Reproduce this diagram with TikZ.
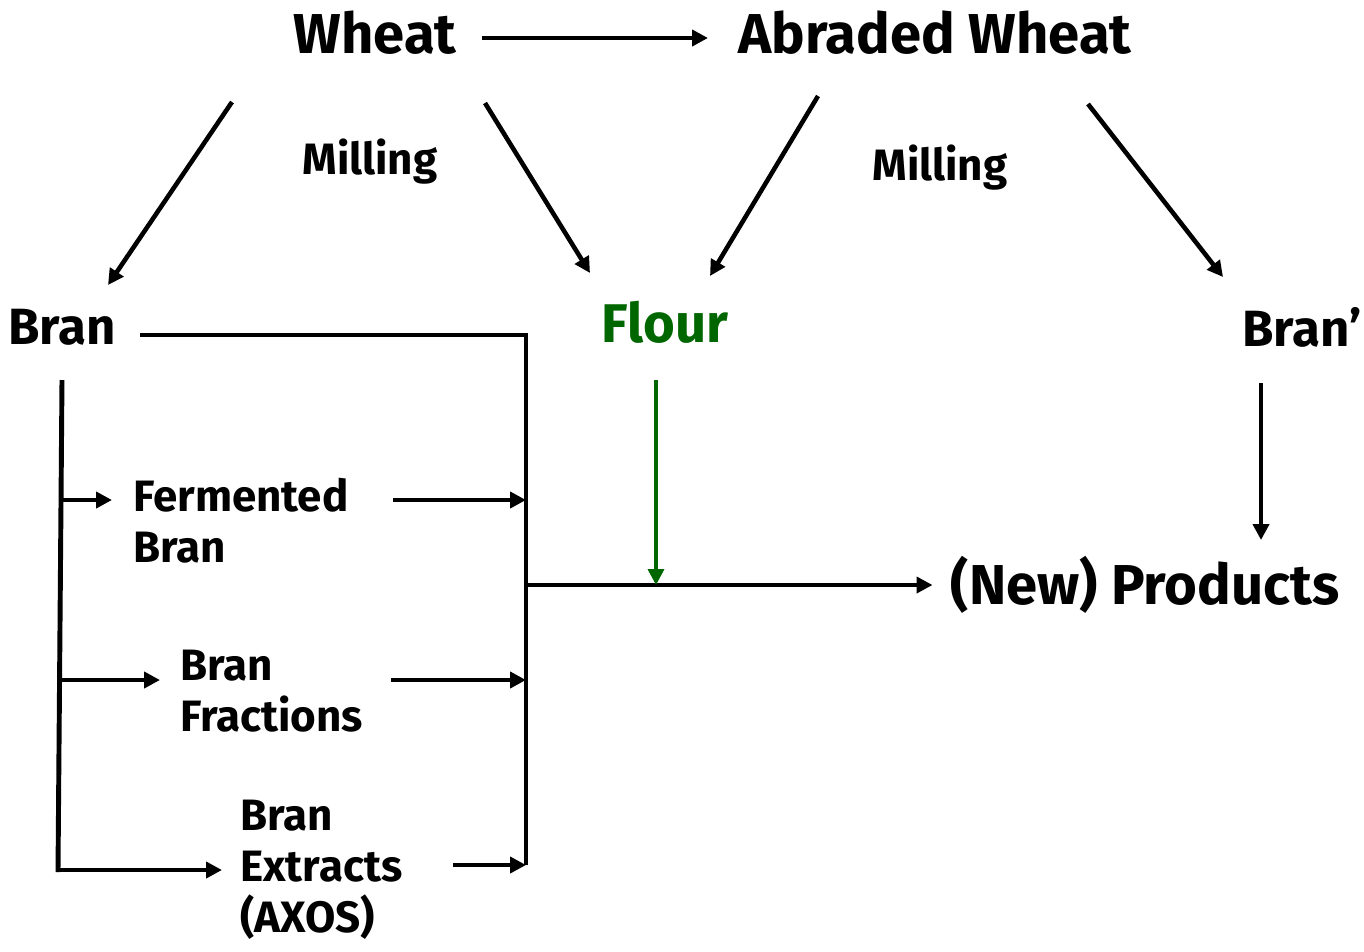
\documentclass[tikz,border=0pt]{standalone}
\usepackage{fontspec}
\setmainfont{Fira Sans}
\usetikzlibrary{calc,arrows.meta}
\definecolor{flourgreen}{RGB}{0,102,0}
\tikzset{
  lbl/.style={font=\bfseries\fontsize{25}{29}\selectfont, inner sep=0pt, align=left},
  big/.style={font=\bfseries\fontsize{32}{36}\selectfont, inner sep=0pt},
  mid/.style={font=\bfseries\fontsize{29}{34}\selectfont, inner sep=0pt},
  arr/.style={line width=2.6pt, -{Triangle[length=9pt,width=9pt]}},
  bus/.style={line width=2.8pt},
}

\begin{document}
\begin{tikzpicture}[x=0.02cm, y=-0.02cm]
			%%%%% START %%%%%
			\useasboundingbox (0,0) rectangle (1364,951);
			
			\node[big] (wheat) at (375,33) {Wheat};
			\node[big] (abraded) at (935,33) {Abraded Wheat};
			\node[lbl] (mill1) at (370,162) {Milling};
			\node[lbl] (mill2) at (940,168) {Milling};
			
			\node[mid] (bran) at (62,327) {Bran};
			\node[mid, font=\bfseries\fontsize{31}{36}\selectfont, text=flourgreen] (flour) at (665,322) {Flour};
			\node[mid] (branp) at (1302,327) {Bran'};
			\node[big] (products) at (1145,585) {(New) Products};
			
			\node[lbl, anchor=north west] (ferm) at (133,478) {Fermented\\Bran};
			\node[lbl, anchor=north west] (frac) at (180,650) {Bran\\Fractions};
			\node[lbl, anchor=north west] (extr) at (240,800) {Bran\\Extracts\\(AXOS)};
			
			\coordinate (busT) at (526,335);
			\coordinate (busB) at (526,865);
			\coordinate (J) at (526,585);
			\coordinate (stemB) at (58,872);
			
			\draw[arr] ($(wheat)+(107,5)$) -- ($(abraded)+(-227,5)$);
			
			\draw[arr] ($(wheat)+(-143,69)$) -- ($(bran)+(46,-42)$);
			\draw[arr] ($(wheat)+(110,70)$) -- ($(flour)+(-75,-49)$);
			\draw[arr] ($(abraded)+(-117,63)$) -- ($(flour)+(45,-46)$);
			\draw[arr] ($(abraded)+(153,71)$) -- ($(branp)+(-79,-50)$);
			
			\draw[bus] ($(bran)+(78,8)$) -- (busT) -- (busB);
			\draw[bus] ($(bran)+(0,53)$) -- (stemB);
			
			\draw[arr] ($(ferm.north west)+(-71,22)$) -- ($(ferm.north west)+(-21,22)$);
			\draw[arr] ($(ferm.north west)+(260,22)$) coordinate (f1) -- (f1 -| busT);
			\draw[arr] ($(frac.north west)+(-118,30)$) -- ($(frac.north west)+(-20,30)$);
			\draw[arr] ($(frac.north west)+(211,30)$) coordinate (f2) -- (f2 -| busT);
			\draw[arr] ($(extr.north west)+(-180,70)$) -- ($(extr.north west)+(-18,70)$);
			\draw[arr] ($(extr.north west)+(213,65)$) coordinate (f3) -- (f3 -| busT);
			
			\draw[arr] (J) -- ($(products.west)+(-18,0)$);
			\draw[arr, flourgreen, line width=2pt] ($(flour)+(-9,58)$) coordinate (g1) -- (g1 |- J);
			\draw[arr] ($(branp)+(-41,56)$) -- ($(branp)+(-41,213)$);
			
			%%%%% END %%%%%
\end{tikzpicture}
\end{document}
